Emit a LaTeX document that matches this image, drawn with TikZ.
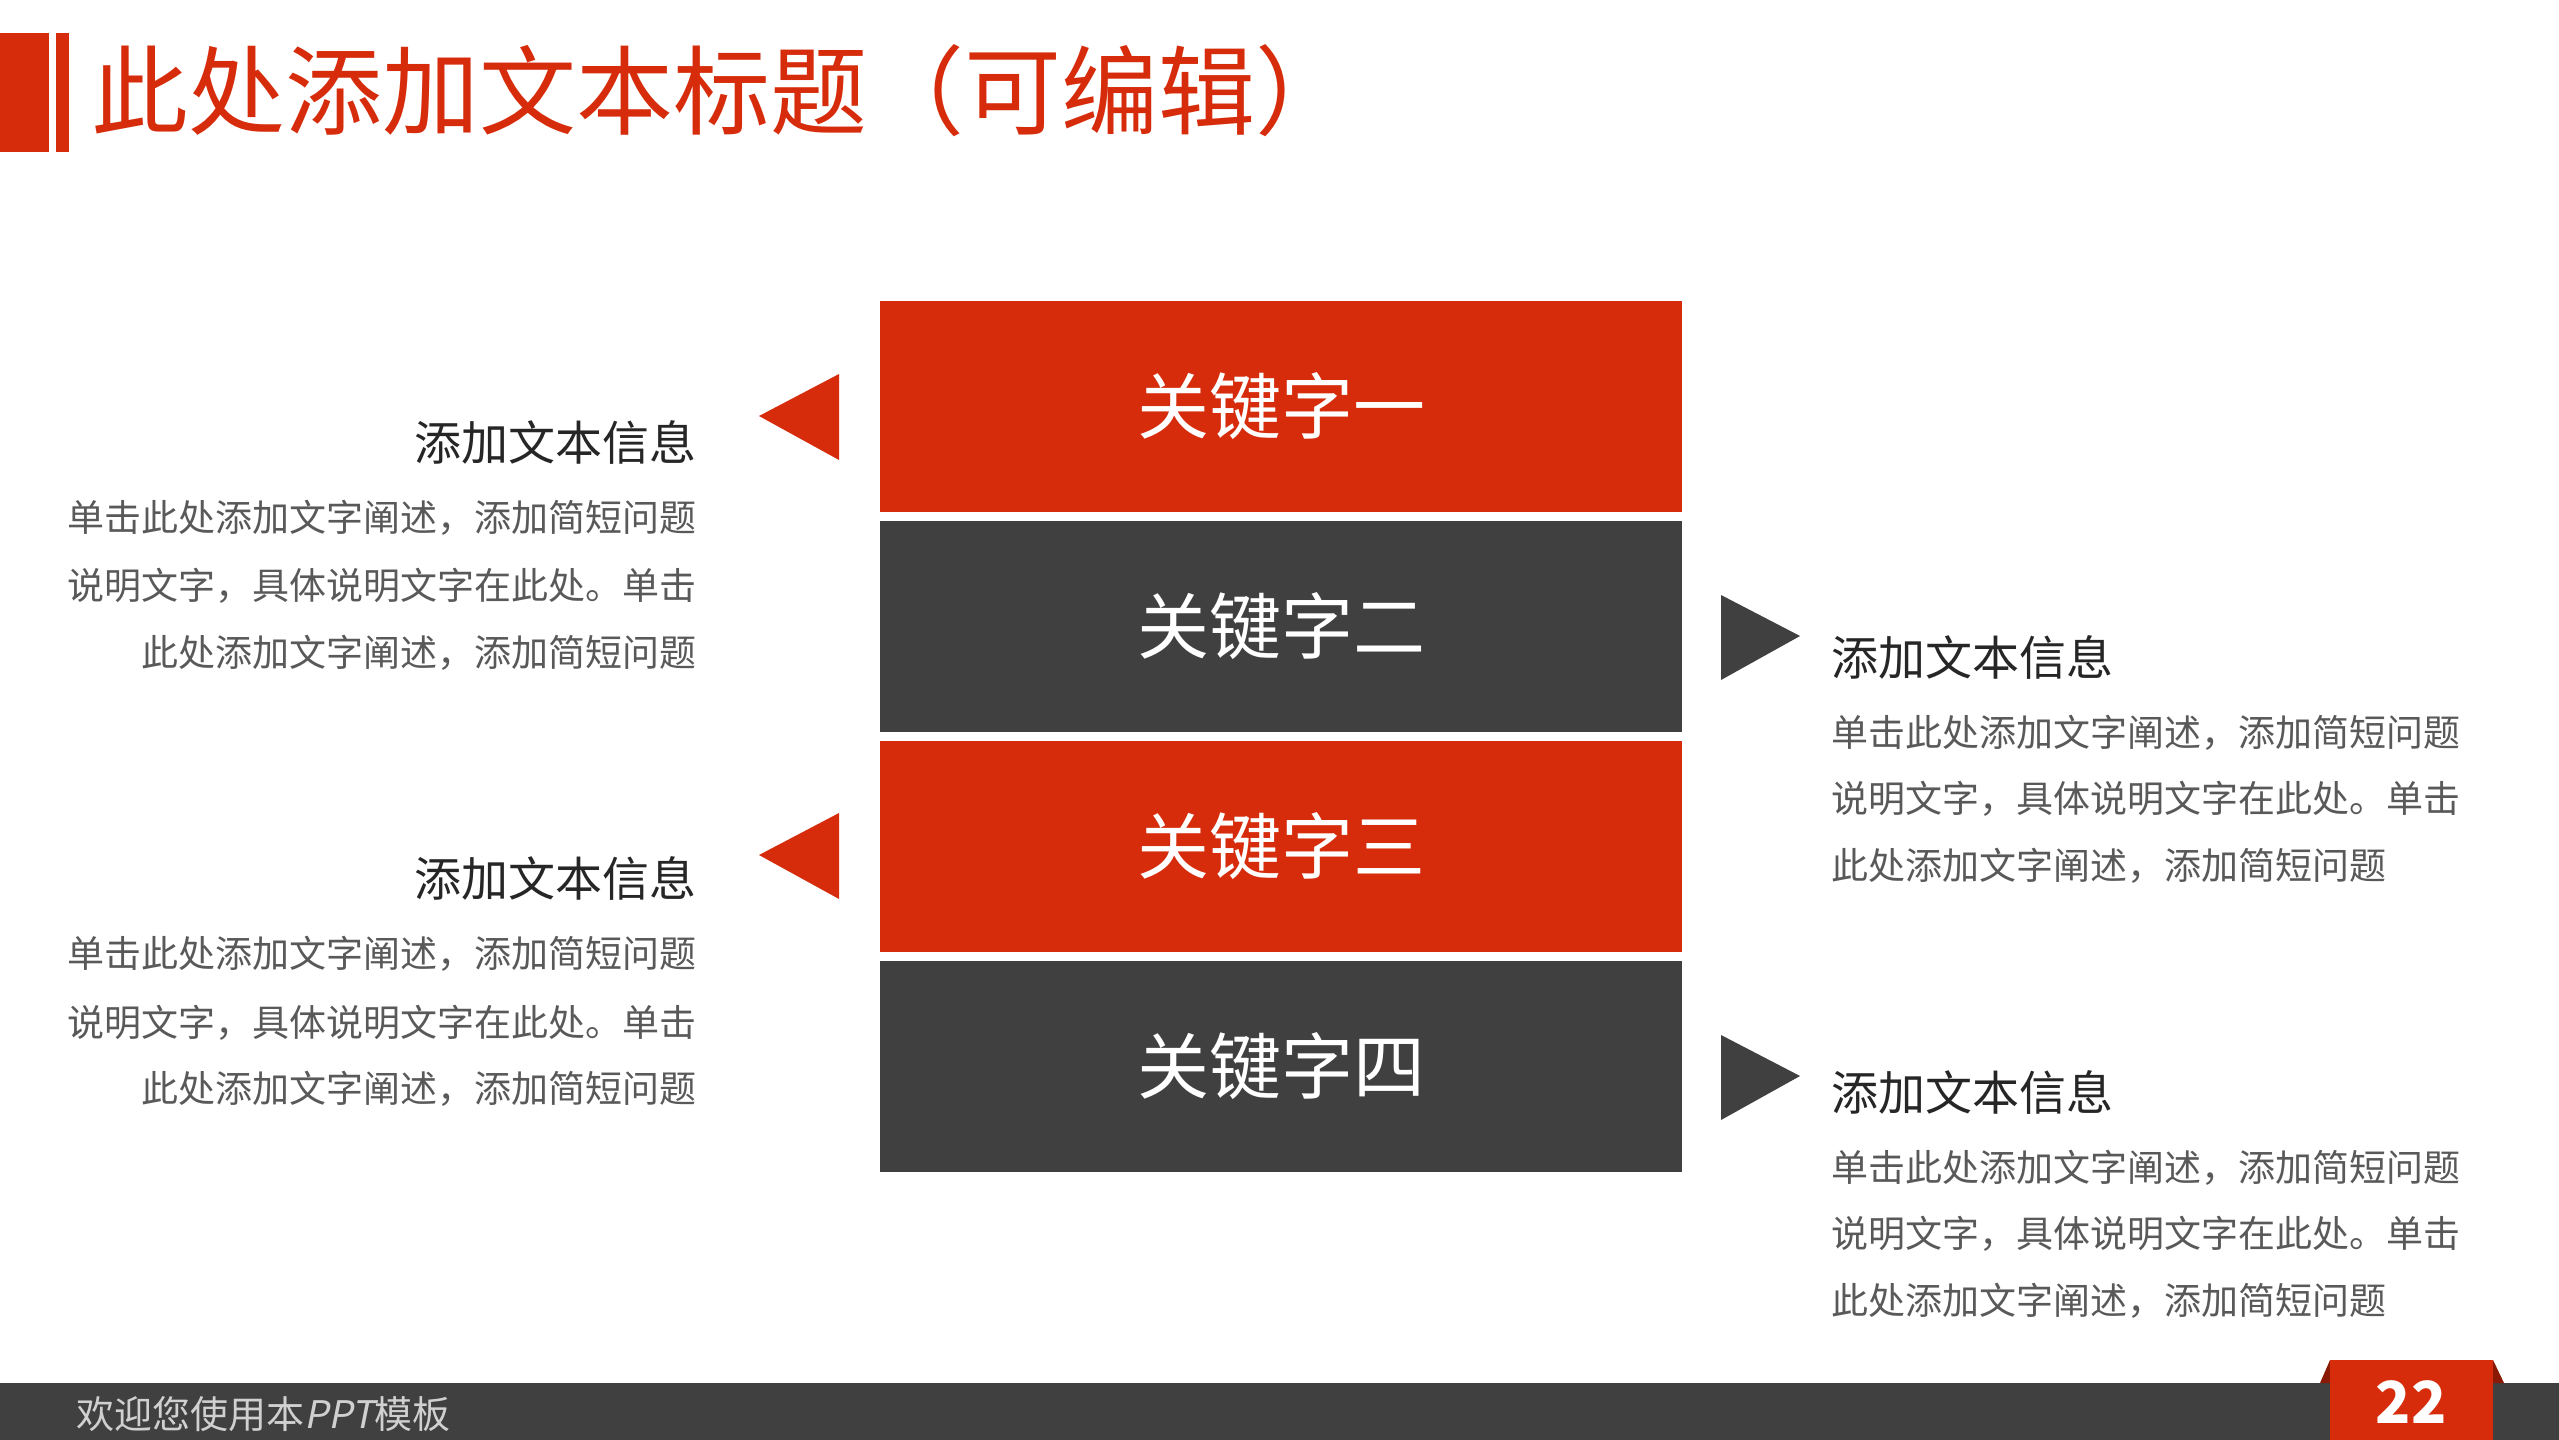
\documentclass[tikz,border=0pt]{standalone}
\usepackage{fontspec}
\setmainfont{Noto Sans CJK SC}
\definecolor{mainred}{HTML}{D62C0B}
\definecolor{darkgray}{HTML}{404040}
\definecolor{bodygray}{HTML}{595959}
\definecolor{headgray}{HTML}{262626}
\definecolor{footgray}{HTML}{D0D0D0}
\definecolor{flapred}{HTML}{8A1A06}
\tikzset{
  keybox/.style={rectangle, minimum width=802pt, minimum height=211pt, inner sep=0pt,
    text=white, font=\fontsize{72pt}{80pt}\selectfont},
  headL/.style={anchor=base east, inner sep=0pt, text=headgray, font=\fontsize{47pt}{50pt}\selectfont},
  headR/.style={anchor=base west, inner sep=0pt, text=headgray, font=\fontsize{47pt}{50pt}\selectfont},
  bodyL/.style={anchor=base east, inner sep=0pt, text=bodygray, font=\fontsize{37pt}{40pt}\selectfont},
  bodyR/.style={anchor=base west, inner sep=0pt, text=bodygray, font=\fontsize{37pt}{40pt}\selectfont},
}
\begin{document}
\begin{tikzpicture}[x=1pt,y=-1pt]
\useasboundingbox (0,0) rectangle (2559,1440);
\fill[white] (0,0) rectangle (2559,1440);
% title bar
\fill[mainred] (0,33) rectangle (49,152);
\fill[mainred] (56,33) rectangle (69,152);
\node[anchor=base west, inner sep=0pt, text=mainred, font=\fontsize{97pt}{110pt}\selectfont] (title) at (91,127) {此处添加文本标题（可编辑）};
% key boxes
\node[keybox, fill=mainred] (k1) at (1281,406) {关键字一};
\node[keybox, fill=darkgray] (k2) at (1281,626) {关键字二};
\node[keybox, fill=mainred] (k3) at (1281,846.5) {关键字三};
\node[keybox, fill=darkgray] (k4) at (1281,1066.5) {关键字四};
% triangles
\fill[mainred] (759,416) -- (839,374) -- (839,460) -- cycle;
\fill[mainred] (759,855) -- (839,813) -- (839,899) -- cycle;
\fill[darkgray] (1721,595) -- (1721,680) -- (1800,636) -- cycle;
\fill[darkgray] (1721,1035) -- (1721,1120) -- (1800,1076) -- cycle;
% left block 1
\node[headL] (h1) at (697,460) {添加文本信息};
\node[bodyL] (a1) at (697,531) {单击此处添加文字阐述，添加简短问题};
\node[bodyL] (a2) at (697,599) {说明文字，具体说明文字在此处。单击};
\node[bodyL] (a3) at (697,666) {此处添加文字阐述，添加简短问题};
% left block 2
\node[headL] (h3) at (697,896) {添加文本信息};
\node[bodyL] (c1) at (697,967) {单击此处添加文字阐述，添加简短问题};
\node[bodyL] (c2) at (697,1036) {说明文字，具体说明文字在此处。单击};
\node[bodyL] (c3) at (697,1102) {此处添加文字阐述，添加简短问题};
% right block 1
\node[headR] (h2) at (1831,675) {添加文本信息};
\node[bodyR] (b1) at (1831,746) {单击此处添加文字阐述，添加简短问题};
\node[bodyR] (b2) at (1831,812) {说明文字，具体说明文字在此处。单击};
\node[bodyR] (b3) at (1831,879) {此处添加文字阐述，添加简短问题};
% right block 2
\node[headR] (h4) at (1831,1110) {添加文本信息};
\node[bodyR] (d1) at (1831,1181) {单击此处添加文字阐述，添加简短问题};
\node[bodyR] (d2) at (1831,1247) {说明文字，具体说明文字在此处。单击};
\node[bodyR] (d3) at (1831,1314) {此处添加文字阐述，添加简短问题};
% footer
\fill[darkgray] (0,1383) rectangle (2559,1440);
\node[anchor=base west, inner sep=0pt, text=footgray, font=\fontsize{38pt}{40pt}\selectfont] (foot) at (76,1428) {欢迎您使用本{\addfontfeature{FakeSlant=0.2}PPT}模板};
\fill[flapred] (2320,1383) -- (2330,1360) -- (2330,1383) -- cycle;
\fill[flapred] (2493,1360) -- (2504,1383) -- (2493,1383) -- cycle;
\fill[mainred] (2330,1360) rectangle (2493,1440);
\node[inner sep=0pt, text=white, font=\fontsize{58pt}{60pt}\selectfont\bfseries] (num) at (2411,1402) {22};
\end{tikzpicture}
\end{document}
